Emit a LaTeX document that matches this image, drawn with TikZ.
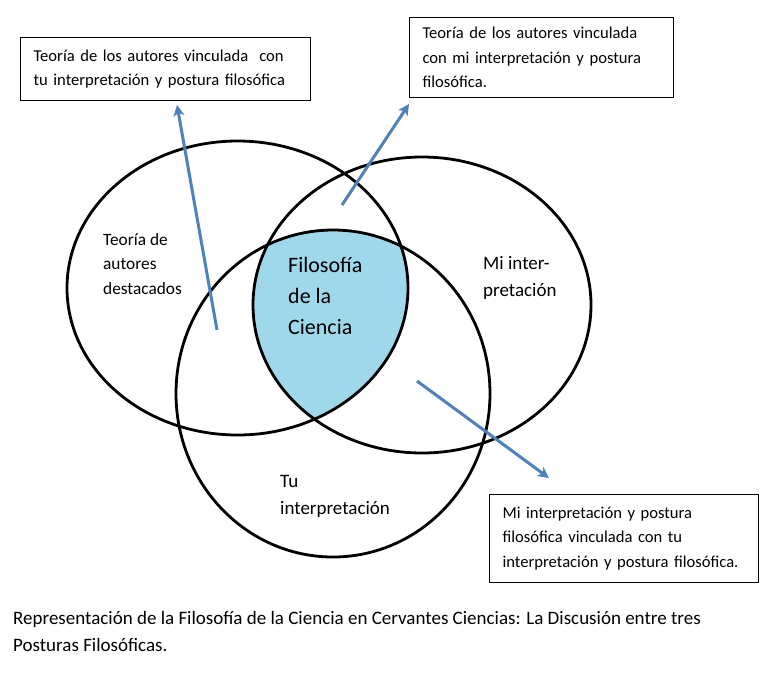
\documentclass[tikz,border=0pt]{standalone}
\usepackage{fontspec}
\setmainfont{Carlito}
\usetikzlibrary{arrows.meta}
\definecolor{arrowblue}{RGB}{79,129,189}
\definecolor{coreblue}{RGB}{158,216,234}
\begin{document}
\begin{tikzpicture}[x=1pt,y=-1pt,
  venn/.style={line width=2.8pt,draw=black},
  textbox/.style={draw=black,line width=1.2pt,anchor=north west,align=left,inner xsep=13pt,inner ysep=0pt,font=\fontsize{16.6}{24.5}\selectfont},
  lbl/.style={anchor=west,align=left,inner sep=0pt,font=\fontsize{17.3}{24.5}\selectfont},
  mlbl/.style={anchor=west,align=left,inner sep=0pt,font=\fontsize{19}{26.5}\selectfont},
  bigl/.style={anchor=west,align=left,inner sep=0pt,font=\fontsize{22}{31}\selectfont},
  pointer/.style={draw=arrowblue,line width=3pt,-{Stealth[length=11pt,width=11pt,inset=3pt]}}]
\useasboundingbox (0,0) rectangle (762,681);
\fill[white] (0,0) rectangle (762,681);
% shaded core
\begin{scope}
  \clip (237.5,288) ellipse [x radius=170.5,y radius=147];
  \clip (422,305) ellipse [x radius=169,y radius=148];
  \fill[coreblue] (333,393.5) ellipse [x radius=157,y radius=163.5];
\end{scope}
% ellipses
\draw[venn] (237.5,288) ellipse [x radius=170.5,y radius=147];
\draw[venn] (422,305) ellipse [x radius=169,y radius=148];
\draw[venn] (333,393.5) ellipse [x radius=157,y radius=163.5];
% labels
\node[lbl] (ta) at (103,264) {Teoría de\\autores\\destacados};
\node[bigl] (fc) at (288,296) {Filosofía\\de la\\Ciencia};
\node[mlbl] (mi) at (483,278) {Mi inter-\\pretación};
\node[mlbl] (tu) at (280,496.5) {Tu\\interpretación};
% boxes
\node[textbox,text width=264pt,minimum height=63pt] (b1) at (20,37) {Teoría de los autores vinculada\ \ con\\tu interpretación y postura filosófica};
\node[textbox,text width=238pt,minimum height=80pt] (b2) at (409,17) {Teoría de los autores vinculada\\con mi interpretación y postura\\filosófica.};
\node[textbox,text width=243pt,minimum height=88pt] (b3) at (489,494) {Mi interpretación y postura\\filosófica vinculada con tu\\interpretación y postura filosófica.};
% caption
\node[anchor=west,align=left,inner sep=0pt,font=\fontsize{19}{27}\selectfont] (cap) at (13,631.5) {Representación de la Filosofía de la Ciencia en Cervantes Ciencias: La Discusión entre tres\\Posturas Filosóficas.};
% arrows
\coordinate (s1) at (217,330);
\coordinate (t1) at (177,105);
\coordinate (s2) at (342,205);
\coordinate (t2) at (409,104);
\coordinate (s3) at (417,381);
\coordinate (t3) at (549,478);
\draw[pointer] (s1) -- (t1);
\draw[pointer] (s2) -- (t2);
\draw[pointer] (s3) -- (t3);
\end{tikzpicture}
\end{document}
